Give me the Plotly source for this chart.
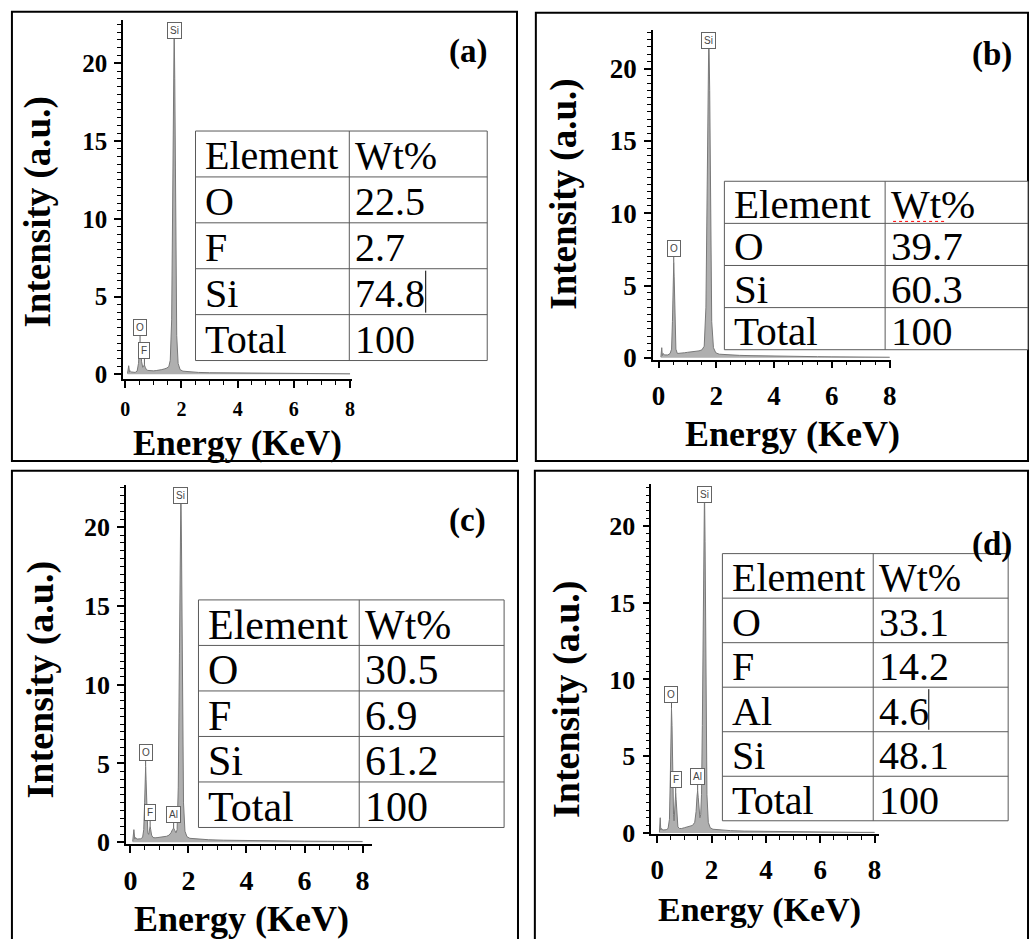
import plotly.graph_objects as go

W, H = 1035, 939

# ---------------- data ----------------
panel_labels = ["(a)", "(b)", "(c)", "(d)"]

energy_a = [0.08,0.12,0.15,0.18,0.22,0.28,0.35,0.42,0.47,0.50,0.525,0.55,0.58,0.62,0.66,0.68,0.71,0.75,0.80,0.90,1.00,1.10,1.20,1.30,1.40,1.48,1.55,1.60,1.65,1.69,1.72,1.74,1.76,1.79,1.83,1.88,1.95,2.05,2.30,2.60,3.00,3.50,4.00,4.50,5.00,5.50,6.00,6.50,7.00,7.50,8.00]
counts_a = [0.05,0.55,0.15,0.2,0.15,0.12,0.12,0.2,0.7,1.6,2.1,1.6,0.8,0.45,0.55,0.6,0.45,0.3,0.25,0.22,0.22,0.24,0.26,0.3,0.35,0.4,0.5,0.9,3.5,12.0,19.5,22.4,19.0,10.0,2.5,0.7,0.3,0.2,0.15,0.12,0.1,0.09,0.08,0.07,0.06,0.05,0.05,0.04,0.04,0.03,0.03]

energy_b = [0.08,0.11,0.13,0.16,0.20,0.26,0.32,0.40,0.45,0.48,0.51,0.525,0.54,0.57,0.60,0.65,0.72,0.80,0.90,1.00,1.10,1.20,1.30,1.40,1.50,1.58,1.64,1.68,1.71,1.74,1.77,1.80,1.84,1.90,1.98,2.10,2.40,2.80,3.20,3.60,4.00,4.50,5.00,5.50,6.00,6.50,7.00,7.50,8.00]
counts_b = [0.05,0.7,0.15,0.3,0.2,0.18,0.2,0.3,0.6,2.5,5.8,6.6,5.6,2.0,0.6,0.3,0.3,0.32,0.35,0.38,0.4,0.42,0.45,0.48,0.55,0.8,3.5,11.0,18.5,22.5,18.5,10.0,2.5,0.7,0.35,0.25,0.2,0.17,0.15,0.13,0.12,0.1,0.09,0.08,0.07,0.06,0.05,0.05,0.04]

energy_c = [0.08,0.12,0.15,0.18,0.22,0.28,0.35,0.42,0.46,0.49,0.51,0.525,0.54,0.57,0.60,0.63,0.66,0.68,0.70,0.73,0.78,0.85,0.95,1.05,1.15,1.25,1.33,1.40,1.45,1.49,1.53,1.57,1.61,1.65,1.69,1.72,1.74,1.76,1.79,1.83,1.88,1.95,2.05,2.30,2.70,3.20,3.80,4.50,5.20,6.00,6.80,7.50,8.00]
counts_c = [0.05,0.8,0.2,0.3,0.2,0.2,0.22,0.3,0.8,2.5,4.2,4.8,4.0,1.6,0.6,0.5,0.85,1.0,0.8,0.45,0.3,0.28,0.3,0.32,0.34,0.38,0.45,0.6,0.8,0.9,0.75,0.6,0.8,3.5,12.0,19.0,22.4,19.0,10.0,2.5,0.7,0.35,0.25,0.2,0.16,0.13,0.11,0.1,0.08,0.07,0.06,0.05,0.05]

energy_d = [0.08,0.11,0.13,0.16,0.20,0.26,0.33,0.40,0.45,0.48,0.505,0.525,0.545,0.57,0.60,0.62,0.645,0.665,0.68,0.695,0.72,0.76,0.82,0.90,1.00,1.10,1.20,1.30,1.38,1.43,1.465,1.487,1.51,1.54,1.57,1.60,1.63,1.66,1.70,1.72,1.74,1.76,1.79,1.83,1.88,1.95,2.05,2.30,2.70,3.20,3.80,4.50,5.20,6.00,6.80,7.50,8.00]
counts_d = [0.05,1.0,0.2,0.3,0.2,0.2,0.22,0.3,0.9,3.5,7.0,8.1,7.0,3.5,1.2,0.8,1.6,2.4,2.6,2.2,1.0,0.4,0.3,0.3,0.35,0.4,0.45,0.5,0.7,1.4,2.4,2.75,2.3,1.3,1.0,1.2,2.5,7.0,15.0,20.0,22.4,19.0,10.0,2.5,0.7,0.35,0.25,0.2,0.16,0.13,0.11,0.1,0.08,0.07,0.06,0.05,0.05]

# peak markers (element, energy, peak height)
peak_el_a = ["O", "F"];        peak_E_a = [0.525, 0.68];          peak_I_a = [2.1, 0.6]
peak_el_b = ["O"];             peak_E_b = [0.525];                peak_I_b = [6.6]
peak_el_c = ["O", "F", "Al"];  peak_E_c = [0.525, 0.68, 1.49];    peak_I_c = [4.8, 1.0, 0.9]
peak_el_d = ["O", "F", "Al"];  peak_E_d = [0.525, 0.68, 1.487];   peak_I_d = [8.1, 2.6, 2.75]
si_energy = 1.74

# composition tables
table_head = ["Element", "Wt%"]
elements_a = ["O", "F", "Si", "Total"];        wt_a = ["22.5", "2.7", "74.8", "100"]
elements_b = ["O", "Si", "Total"];             wt_b = ["39.7", "60.3", "100"]
elements_c = ["O", "F", "Si", "Total"];        wt_c = ["30.5", "6.9", "61.2", "100"]
elements_d = ["O", "F", "Al", "Si", "Total"];  wt_d = ["33.1", "14.2", "4.6", "48.1", "100"]

x_ticks = [0, 2, 4, 6, 8]
y_ticks = [0, 5, 10, 15, 20]

# ---------------- layout geometry (pixels) ----------------
def px(x):
    return x / W

def py(y):
    return 1 - y / H

panels = [
    dict(E=energy_a, I=counts_a, pel=peak_el_a, pE=peak_E_a, pI=peak_I_a,
         els=elements_a, wts=wt_a, label=panel_labels[0],
         ax_x=(121, 352), ax_y=(20, 385), xr=[-0.08, 8.08], yr=[-0.32, 22.8],
         xfs=20, yfs=25,
         frame=(9, 12, 518, 468),
         tab=dict(L=194, T=133, D=349, R=488, rh=46.6, fs=40),
         xt=(236.7, 450, 35), yt=(35, 215, 37), lab=(469, 52, 33)),
    dict(E=energy_b, I=counts_b, pel=peak_el_b, pE=peak_E_b, pI=peak_I_b,
         els=elements_b, wts=wt_b, label=panel_labels[1],
         ax_x=(655, 895), ax_y=(30, 365), xr=[-0.195, 8.05], yr=[-0.12, 22.7],
         xfs=27, yfs=27,
         frame=(537, 13, 1033, 468),
         tab=dict(L=727, T=184, D=889, R=1033, rh=42.75, fs=41),
         xt=(795.5, 441, 36), yt=(565, 197, 37), lab=(997, 55, 33)),
    dict(E=energy_c, I=counts_c, pel=peak_el_c, pE=peak_E_c, pI=peak_I_c,
         els=elements_c, wts=wt_c, label=panel_labels[2],
         ax_x=(124, 372), ax_y=(492, 856.6), xr=[-0.15, 8.33], yr=[-0.1, 22.7],
         xfs=28, yfs=26,
         frame=(9, 478, 519, 1000),
         tab=dict(L=197, T=609, D=359, R=505, rh=46.2, fs=42),
         xt=(240, 933, 36), yt=(38, 690, 38), lab=(468, 528, 33)),
    dict(E=energy_d, I=counts_d, pel=peak_el_d, pE=peak_E_d, pI=peak_I_d,
         els=elements_d, wts=wt_d, label=panel_labels[3],
         ax_x=(653.3, 883.3), ax_y=(491.7, 846.7), xr=[-0.22, 8.18], yr=[-0.064, 22.7],
         xfs=27, yfs=26,
         frame=(536, 478, 1033, 1000),
         tab=dict(L=725, T=562, D=877, R=1013, rh=45.2, fs=40),
         xt=(762.5, 924, 34), yt=(568, 710, 38), lab=(997, 553, 33)),
]

SERIF = "Liberation Serif"
fig = go.Figure()
shapes = []
annotations = []
layout = {}

for k, p in enumerate(panels):
    n = "" if k == 0 else str(k + 1)
    xa, ya = "x" + n, "y" + n
    fig.add_trace(go.Scatter(
        x=p["E"], y=p["I"], mode="lines", fill="tozeroy",
        fillcolor="rgb(175,175,175)", line=dict(color="rgb(120,120,120)", width=1),
        xaxis=xa, yaxis=ya, showlegend=False, hoverinfo="skip"))

    layout["xaxis" + n] = dict(
        domain=[px(p["ax_x"][0]), px(p["ax_x"][1])], range=p["xr"], anchor=ya,
        showgrid=False, zeroline=False, showline=True, linecolor="black", linewidth=1.5,
        tickmode="array", tickvals=x_ticks, ticks="outside", ticklen=7, tickwidth=1.5,
        tickcolor="black", ticklabelstandoff=4,
        tickfont=dict(family=SERIF, size=p["xfs"], color="black", weight="bold"),
        minor=dict(dtick=0.5, tick0=0, ticks="outside", ticklen=4, tickwidth=1, tickcolor="black"))
    layout["yaxis" + n] = dict(
        domain=[py(p["ax_y"][1]), py(p["ax_y"][0])], range=p["yr"], anchor=xa,
        showgrid=False, zeroline=False, showline=True, linecolor="black", linewidth=1.5,
        tickmode="array", tickvals=y_ticks, ticks="outside", ticklen=7, tickwidth=1.5,
        tickcolor="black", ticklabelstandoff=2,
        tickfont=dict(family=SERIF, size=p["yfs"], color="black", weight="bold"),
        minor=dict(dtick=0.5, tick0=0, ticks="outside", ticklen=4, tickwidth=1, tickcolor="black"))

    # panel frame
    x0, y0, x1, y1 = p["frame"]
    shapes.append(dict(type="rect", xref="paper", yref="paper",
                       x0=px(x0), x1=px(x1), y0=py(y1), y1=py(y0),
                       line=dict(color="black", width=2), layer="below"))

    # peak markers
    for el, e, h in zip(p["pel"], p["pE"], p["pI"]):
        annotations.append(dict(x=e, y=h, xref=xa, yref=ya, text=el, showarrow=True,
                                arrowhead=0, arrowwidth=1, arrowcolor="rgb(100,100,100)",
                                ax=0, ay=-14, font=dict(family="Arial", size=10, color="rgb(70,70,70)"),
                                bordercolor="rgb(100,100,100)", borderwidth=1, borderpad=2,
                                bgcolor="white"))
    annotations.append(dict(x=si_energy, y=p["yr"][1], xref=xa, yref=ya, text="Si",
                            showarrow=False, yanchor="top", yshift=-2,
                            font=dict(family="Arial", size=10, color="rgb(70,70,70)"),
                            bordercolor="rgb(100,100,100)", borderwidth=1, borderpad=2,
                            bgcolor="white"))

    # composition table
    t = p["tab"]
    rows = [table_head] + [[a, b] for a, b in zip(p["els"], p["wts"])]
    nrow = len(rows)
    B = t["T"] + nrow * t["rh"]
    lc = dict(color="rgb(90,90,90)", width=1)
    shapes.append(dict(type="rect", xref="paper", yref="paper",
                       x0=px(t["L"]), x1=px(t["R"]), y0=py(B), y1=py(t["T"]),
                       line=lc, fillcolor="white", layer="above"))
    shapes.append(dict(type="line", xref="paper", yref="paper",
                       x0=px(t["D"]), x1=px(t["D"]), y0=py(B), y1=py(t["T"]), line=lc))
    for r in range(1, nrow):
        yy = t["T"] + r * t["rh"]
        shapes.append(dict(type="line", xref="paper", yref="paper",
                           x0=px(t["L"]), x1=px(t["R"]), y0=py(yy), y1=py(yy), line=lc))
    for r, (c1, c2) in enumerate(rows):
        yc = t["T"] + (r + 0.5) * t["rh"] + 2
        annotations.append(dict(x=px(t["L"] + 8), y=py(yc), xref="paper", yref="paper",
                                text=c1, showarrow=False, xanchor="left", yanchor="middle",
                                font=dict(family=SERIF, size=t["fs"], color="black")))
        annotations.append(dict(x=px(t["D"] + 4), y=py(yc), xref="paper", yref="paper",
                                text=c2, showarrow=False, xanchor="left", yanchor="middle",
                                font=dict(family=SERIF, size=t["fs"], color="black")))

    # axis titles and panel label
    xt = p["xt"]
    annotations.append(dict(x=px(xt[0]), y=py(xt[1]), xref="paper", yref="paper",
                            text="<b>Energy (KeV)</b>", showarrow=False,
                            xanchor="center", yanchor="middle",
                            font=dict(family=SERIF, size=xt[2], color="black")))
    yt = p["yt"]
    annotations.append(dict(x=px(yt[0]), y=py(yt[1]), xref="paper", yref="paper",
                            text="<b>Intensity (a.u.)</b>", showarrow=False, textangle=-90,
                            xanchor="center", yanchor="middle",
                            font=dict(family=SERIF, size=yt[2], color="black")))
    lb = p["lab"]
    annotations.append(dict(x=px(lb[0]), y=py(lb[1]), xref="paper", yref="paper",
                            text="<b>" + p["label"] + "</b>", showarrow=False,
                            xanchor="center", yanchor="middle",
                            font=dict(family=SERIF, size=lb[2], color="black")))

# red spell-check squiggle under "Wt%" in panel (b) and cursor marks
tb = panels[1]["tab"]
shapes.append(dict(type="line", xref="paper", yref="paper",
                   x0=px(tb["D"] + 8), x1=px(tb["D"] + 62), y0=py(tb["T"] + tb["rh"] - 2),
                   y1=py(tb["T"] + tb["rh"] - 2), line=dict(color="red", width=1, dash="dot")))
ta = panels[0]["tab"]
shapes.append(dict(type="line", xref="paper", yref="paper",
                   x0=px(426), x1=px(426), y0=py(ta["T"] + 4 * ta["rh"] - 2),
                   y1=py(ta["T"] + 3 * ta["rh"] + 2), line=dict(color="black", width=1)))
td = panels[3]["tab"]
shapes.append(dict(type="line", xref="paper", yref="paper",
                   x0=px(933), x1=px(933), y0=py(td["T"] + 4 * td["rh"] - 2),
                   y1=py(td["T"] + 3 * td["rh"] + 2), line=dict(color="black", width=1)))

fig.update_layout(**layout)
fig.update_layout(width=W, height=H, margin=dict(l=0, r=0, t=0, b=0),
                  paper_bgcolor="white", plot_bgcolor="rgba(0,0,0,0)",
                  shapes=shapes, annotations=annotations, showlegend=False)

fig.write_html("out.html")
